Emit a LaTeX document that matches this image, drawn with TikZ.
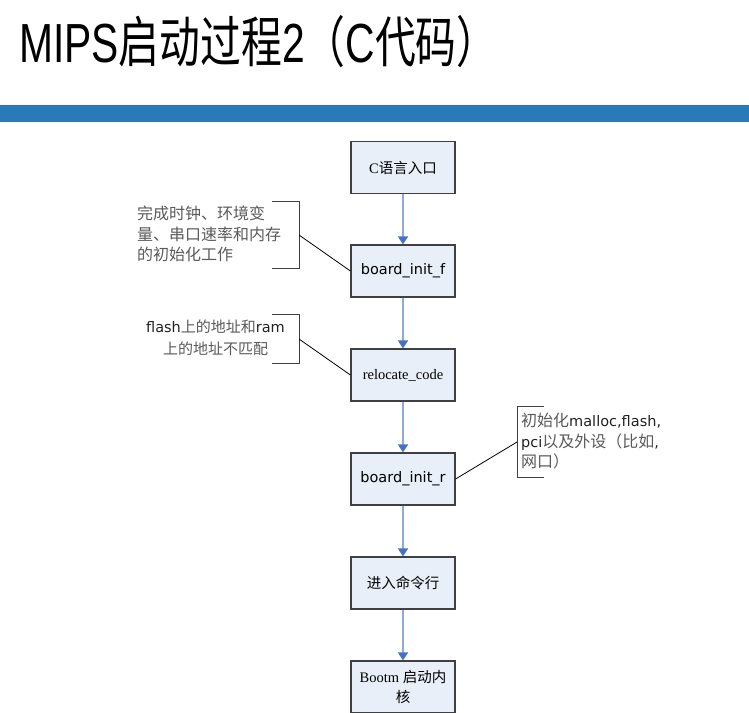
\documentclass[tikz,border=0pt]{standalone}
\usepackage{fontspec}
\setmainfont{Liberation Serif}
\newfontfamily\cjk{Noto Sans CJK SC}
\newfontfamily\dv{DejaVu Sans}
\newfontfamily\ar{Liberation Sans}
\usetikzlibrary{arrows.meta}
\definecolor{boxfill}{HTML}{E9EFF8}
\definecolor{boxdraw}{HTML}{404040}
\definecolor{arrline}{HTML}{8EAADB}
\definecolor{arrhead}{HTML}{4472C4}
\definecolor{barblue}{HTML}{2A79B8}
\definecolor{note}{HTML}{5A5A5A}
\definecolor{latin}{HTML}{222222}
\tikzset{
  stepbox/.style={draw=boxdraw, line width=1.2pt, fill=boxfill, minimum width=104pt, minimum height=52pt, inner sep=0pt, text=black, align=center, font=\fontsize{14.5}{20}\selectfont},
  flow/.style={draw=arrline, line width=1.6pt, -{Triangle[width=10pt,length=8pt,color=arrhead]}},
  bracket/.style={draw=boxdraw, line width=1pt},
  leader/.style={draw=black, line width=0.8pt},
  notetext/.style={inner sep=0pt, text=note, font=\fontsize{16}{20.5}\selectfont\cjk}
}
\begin{document}
\begin{tikzpicture}[x=1pt,y=-1pt]
\useasboundingbox (0,0) rectangle (749,712);
\fill[white] (0,0) rectangle (749,712);
\clip (0,0) rectangle (749,712);
% title
\node[anchor=base west, inner sep=0pt] (title) at (19,62) {\scalebox{1}[1.35]{\fontsize{40.8}{41}\selectfont\ar MIPS\cjk 启动过程\ar 2\cjk （\ar C\cjk 代码）}};
\fill[barblue] (0,105) rectangle (749,122);
% boxes
\node[stepbox] (n1) at (403,167.5) {C\cjk 语言入口};
\node[stepbox] (n2) at (403,271) {\dv board\_init\_f};
\node[stepbox] (n3) at (403,375) {relocate\_code};
\node[stepbox] (n4) at (403,479) {\dv board\_init\_r};
\node[stepbox] (n5) at (403,583) {\cjk 进入命令行};
\node[stepbox] (n6) at (403,687) {Bootm \cjk 启动内\\\cjk 核};
% flow arrows
\draw[flow] (n1) -- (n2);
\draw[flow] (n2) -- (n3);
\draw[flow] (n3) -- (n4);
\draw[flow] (n4) -- (n5);
\draw[flow] (n5) -- (n6);
% callout 1
\draw[bracket] (272,201) -- (299,201) -- (299,268) -- (272,268);
\coordinate (b1) at (299,235);
\draw[leader] (b1) -- (n2.west);
\node[notetext, anchor=north west, align=left] (t1) at (137,206) {完成时钟、环境变\\量、串口速率和内存\\的初始化工作};
% callout 2
\draw[bracket] (272,314) -- (299,314) -- (299,363) -- (272,363);
\coordinate (b2) at (299,339);
\draw[leader] (b2) -- (n3.west);
\node[notetext, anchor=north, align=center, font=\fontsize{15}{22}\selectfont\cjk] (t2) at (215.5,320) {{\dv\fontsize{14.5}{22}\selectfont\color{latin}flash}上的地址和{\dv\fontsize{14.5}{22}\selectfont\color{latin}ram}\\上的地址不匹配};
% callout 3
\draw[bracket] (544,406) -- (517,406) -- (517,477) -- (544,477);
\coordinate (b3) at (517,442);
\draw[leader] (n4.east) -- (b3);
\node[notetext, anchor=north west, align=left] (t3) at (521,413) {初始化{\dv\fontsize{14.5}{20.5}\selectfont\color{latin}malloc,flash,}\\{\dv\fontsize{14.5}{20.5}\selectfont\color{latin}pci}以及外设（比如{\dv\fontsize{14.5}{20.5}\selectfont\color{latin},}\\网口）};
\end{tikzpicture}
\end{document}
